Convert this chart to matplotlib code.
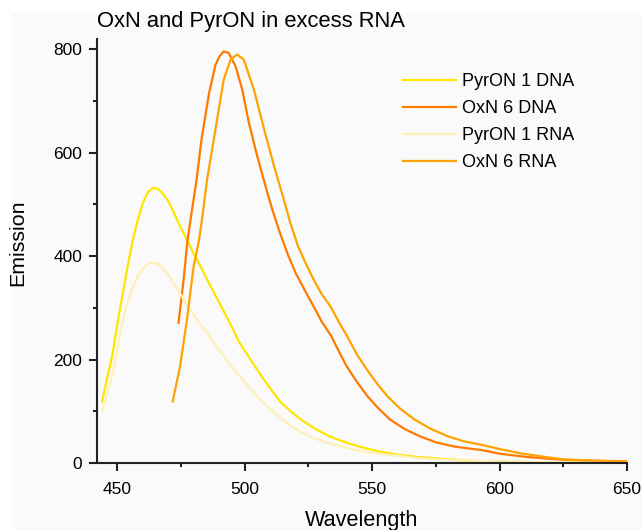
import matplotlib
matplotlib.use("Agg")
import matplotlib.pyplot as plt
from matplotlib.patches import Rectangle
from matplotlib.ticker import MultipleLocator

plt.rcParams['font.family'] = ['Liberation Sans', 'DejaVu Sans']

# PyrON 1 in DNA
pyr_dna_wl = [444, 446, 448, 450, 452, 454, 456, 458, 460, 462, 464, 466, 468, 470, 472,
              474, 476, 478, 480, 483, 486, 490, 494, 498, 502, 506, 510, 514, 518, 522,
              527, 533, 540, 547, 553, 560, 567, 573, 580, 587, 593, 600, 610, 620, 630,
              640, 650]
pyr_dna_em = [119, 165, 208, 270, 325, 380, 430, 470, 503, 524, 532, 530, 520, 506, 486,
              464, 444, 425, 404, 377, 347, 310, 272, 232, 202, 172, 144, 118, 100, 84,
              68, 52, 39, 29, 22, 16, 12, 10, 7, 5, 3, 3, 2, 1, 1,
              1, 1]

# OxN 6 in DNA
oxn_dna_wl = [474, 476, 477.5, 479, 481, 483, 486, 488.5, 490, 491.7, 493.7, 496.4, 499,
              501.6, 504.9, 508.9, 511, 514, 517, 520, 524, 527, 530, 534, 537, 540, 544,
              548, 552, 557, 563, 569, 575, 582, 588, 593, 600, 610, 620, 630, 640, 650]
oxn_dna_em = [271, 355, 430, 480, 545, 625, 716, 770, 786, 796, 793, 767, 722,
              658, 593, 522, 487, 442, 402, 367, 330, 303, 275, 245, 215, 187, 157,
              130, 108, 84, 65, 51, 40, 32, 28, 25, 18, 12, 8, 5, 4, 3]

# PyrON 1 in RNA
pyr_rna_wl = [444, 446, 448, 450, 452, 454, 456, 458, 460, 462, 464, 466, 468, 470, 472,
              474, 476, 478, 482, 486, 490, 494, 498, 502, 506, 510, 514, 518, 522, 527,
              533, 540, 547, 553, 560, 567, 573, 580, 590, 600, 615, 630, 650]
pyr_rna_em = [100, 135, 170, 220, 273, 310, 340, 362, 376, 385, 387, 385, 376, 364, 348,
              333, 316, 300, 272, 246, 218, 192, 168, 145, 122, 104, 87, 72, 60, 48,
              38, 29, 22, 18, 14, 10, 8, 6, 4, 3, 2, 1, 1]

# OxN 6 in RNA
oxn_rna_wl = [471.7, 474.6, 477.3, 479.9, 482, 483.2, 485.2, 488.5, 491.7, 494.4, 497,
              499.6, 503.6, 507.6, 511.5, 515, 518, 521, 524, 527, 530, 533.6, 537,
              540.2, 544, 548, 552, 556, 561, 566.6, 573, 580, 586, 593, 600, 608, 616,
              625, 635, 650]
oxn_rna_em = [119, 187, 277, 380, 430, 471, 548, 645, 741, 780, 790,
              780, 722, 645, 574, 515, 462, 418, 385, 355, 328, 303, 272,
              245, 210, 180, 153, 129, 105, 84, 66, 51, 42, 35, 27, 19, 13,
              7, 5, 3]

fig = plt.figure(figsize=(6.42, 5.30), dpi=100, facecolor='white')
bg = Rectangle((12 / 642, 0), 1, (530 - 13) / 530, transform=fig.transFigure,
               facecolor='#fafafa', edgecolor='none', zorder=-10)
fig.patches.append(bg)
ax = fig.add_axes([97 / 642, 67 / 530, 530 / 642, 424 / 530])
ax.set_facecolor('#fafafa')

ax.plot(pyr_dna_wl, pyr_dna_em, color='#ffe600', lw=1.6, label='PyrON 1 DNA')
ax.plot(oxn_dna_wl, oxn_dna_em, color='#ff7b00', lw=1.6, label='OxN 6 DNA')
ax.plot(pyr_rna_wl, pyr_rna_em, color='#fff0b8', lw=1.6, label='PyrON 1 RNA')
ax.plot(oxn_rna_wl, oxn_rna_em, color='#ffa300', lw=1.6, label='OxN 6 RNA')

ax.set_xlim(442, 650)
ax.set_ylim(0, 820)
ax.xaxis.set_major_locator(MultipleLocator(50))
ax.xaxis.set_minor_locator(MultipleLocator(25))
ax.yaxis.set_major_locator(MultipleLocator(200))
ax.yaxis.set_minor_locator(MultipleLocator(100))
for s in ['top', 'right']:
    ax.spines[s].set_visible(False)
for s in ['left', 'bottom']:
    ax.spines[s].set_linewidth(1.5)
    ax.spines[s].set_color('#222222')
ax.tick_params(which='major', length=5.8, width=1.5, color='#222222', labelsize=12.5, pad=5)
ax.tick_params(which='minor', length=3, width=1.5, color='#222222')
ax.tick_params(axis='x', pad=8)

ax.set_xlabel('Wavelength', fontsize=15.6)
ax.set_ylabel('Emission', fontsize=15.4)
ax.xaxis.set_label_coords(0.5, -0.112)
ax.yaxis.set_label_coords(-0.132, 0.52)
ax.set_title('OxN and PyrON in excess RNA', fontsize=15.8, loc='left', pad=9)

ax.legend(loc='upper left', bbox_to_anchor=(0.547, 0.958), frameon=False, fontsize=13,
          handlelength=2.9, handletextpad=0.35, labelspacing=0.56)

fig.savefig('out.png', dpi=100, facecolor=fig.get_facecolor())
